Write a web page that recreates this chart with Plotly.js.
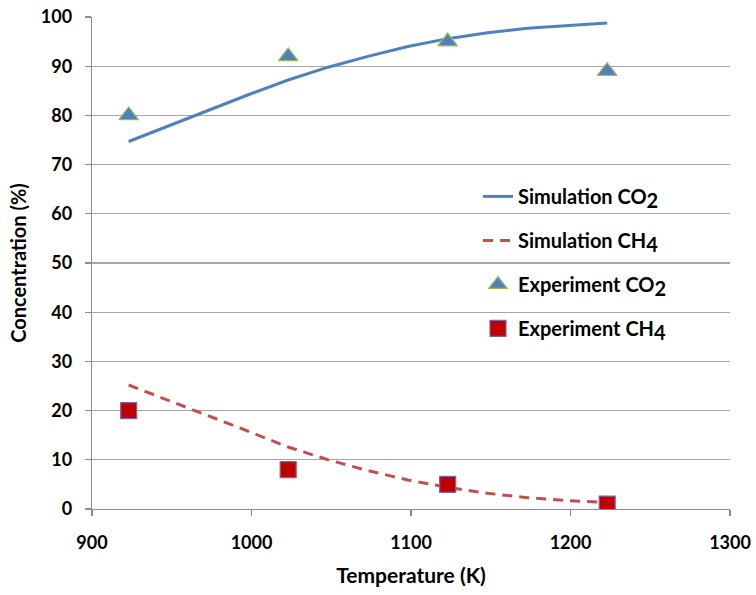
<!DOCTYPE html>
<html>
<head>
<meta charset="utf-8">
<script src="https://cdn.plot.ly/plotly-3.0.1.min.js"></script>
<style>html,body{margin:0;padding:0;background:#fff;}#chart{width:756px;height:595px;}</style>
</head>
<body>
<div id="chart"></div>
<script>
// Simulation curves
const simT = [923, 948, 973, 998, 1023, 1048, 1073, 1098, 1123, 1148, 1173, 1198, 1223];
const simCO2 = [74.7, 77.9, 81.0, 84.2, 87.2, 89.8, 92.0, 94.0, 95.6, 96.8, 97.7, 98.3, 98.8];
const simCH4 = [25.2, 22.1, 19.0, 15.8, 12.6, 10.0, 7.8, 5.9, 4.4, 3.2, 2.3, 1.7, 1.3];
// Experimental points
const expT = [923, 1023, 1123, 1223];
const expCO2 = [80, 92, 95, 89];
const expCH4 = [20, 8, 5, 1];
const xTicks = [900, 1000, 1100, 1200, 1300];
const yTicks = [0, 10, 20, 30, 40, 50, 60, 70, 80, 90, 100];

const FONT = 'Lato, "Open Sans", sans-serif';
const SUB = n => '<sub><span style="font-size:20px">' + n + '</span></sub>';
const traces = [
  {x: simT, y: simCO2, mode: 'lines', name: 'Simulation CO' + SUB(2), legendgroup: 'a',
   line: {color: '#4F81BD', width: 3}},
  {x: simT, y: simCH4, mode: 'lines', name: 'Simulation CH' + SUB(4), legendgroup: 'b',
   line: {color: '#C0504D', width: 3, dash: '10px,7px'}},
  {x: expT, y: expCO2, mode: 'markers', name: 'Experiment CO' + SUB(2), legendgroup: 'c',
   marker: {symbol: 'triangle-up', size: 17, color: '#4F81BD', line: {color: '#9BBB59', width: 1.2}}},
  {x: expT, y: expCH4, mode: 'markers', name: 'Experiment CH' + SUB(4), legendgroup: 'd',
   marker: {symbol: 'square', size: 16, color: '#C00000', line: {color: '#8064A2', width: 1.2}}}
];

const layout = {
  width: 756, height: 595,
  margin: {l: 92, r: 26, t: 17, b: 86},
  paper_bgcolor: '#fff', plot_bgcolor: '#fff',
  font: {family: FONT, color: '#000', size: 18, weight: 'bold'},
  showlegend: true,
  legend: {x: 0.605, y: 0.675, xanchor: 'left', yanchor: 'top', bgcolor: 'rgba(0,0,0,0)',
           font: {family: FONT, size: 20, color: '#000', weight: 'bold'}, tracegroupgap: 15},
  xaxis: {
    range: [900, 1300], tickvals: xTicks, ticktext: xTicks.map(String),
    showgrid: false, zeroline: false, showline: true, linecolor: '#8c8c8c', linewidth: 1.3,
    ticks: 'outside', ticklen: 6, tickcolor: '#8c8c8c', tickwidth: 1.3,
    ticklabelstandoff: 11,
    tickfont: {family: FONT, size: 18, color: '#000', weight: 'bold'},
    title: {text: 'Temperature (K)', font: {family: FONT, size: 21, color: '#000', weight: 'bold'}, standoff: 16}
  },
  yaxis: {
    range: [0, 100], tickvals: yTicks, ticktext: yTicks.map(String),
    showgrid: true, gridcolor: '#a6a6a6', gridwidth: 1.3, zeroline: false,
    showline: true, linecolor: '#8c8c8c', linewidth: 1.3,
    ticks: 'outside', ticklen: 6, tickcolor: '#8c8c8c', tickwidth: 1.3,
    ticklabelstandoff: 9,
    tickfont: {family: FONT, size: 18, color: '#000', weight: 'bold'},
    title: {text: 'Concentration (%)', font: {family: FONT, size: 20, color: '#000', weight: 'bold'}, standoff: 8}
  }
};

Plotly.newPlot('chart', traces, layout, {displayModeBar: false, staticPlot: true});
</script>
</body>
</html>
